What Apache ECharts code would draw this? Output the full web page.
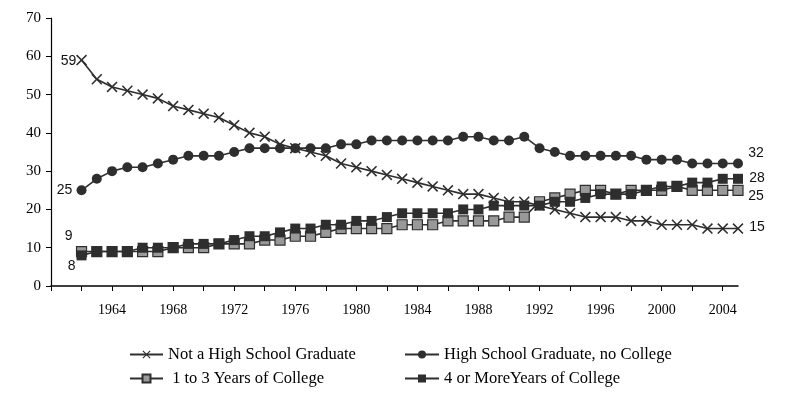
<!DOCTYPE html>
<html>
<head>
<meta charset="utf-8">
<script src="https://cdn.jsdelivr.net/npm/echarts@6/dist/echarts.min.js"></script>
<style>
  html, body { margin: 0; padding: 0; background: #fff; }
  #main { width: 786px; height: 399px; }
</style>
</head>
<body>
<div id="main"></div>
<script>
var years = [1962, 1963, 1964, 1965, 1966, 1967, 1968, 1969, 1970, 1971,
  1972, 1973, 1974, 1975, 1976, 1977, 1978, 1979, 1980, 1981,
  1982, 1983, 1984, 1985, 1986, 1987, 1988, 1989, 1990, 1991,
  1992, 1993, 1994, 1995, 1996, 1997, 1998, 1999, 2000, 2001,
  2002, 2003, 2004, 2005];

var notHighSchool = [59, 54, 52, 51, 50, 49, 47, 46, 45, 44,
  42, 40, 39, 37, 36, 35, 34, 32, 31, 30,
  29, 28, 27, 26, 25, 24, 24, 23, 22, 22,
  21, 20, 19, 18, 18, 18, 17, 17, 16, 16,
  16, 15, 15, 15];
var highSchool = [25, 28, 30, 31, 31, 32, 33, 34, 34, 34,
  35, 36, 36, 36, 36, 36, 36, 37, 37, 38,
  38, 38, 38, 38, 38, 39, 39, 38, 38, 39,
  36, 35, 34, 34, 34, 34, 34, 33, 33, 33,
  32, 32, 32, 32];
var someCollege = [9, 9, 9, 9, 9, 9, 10, 10, 10, 11,
  11, 11, 12, 12, 13, 13, 14, 15, 15, 15,
  15, 16, 16, 16, 17, 17, 17, 17, 18, 18,
  22, 23, 24, 25, 25, 24, 25, 25, 25, 26,
  25, 25, 25, 25];
var collegeGrad = [8, 9, 9, 9, 10, 10, 10, 11, 11, 11,
  12, 13, 13, 14, 15, 15, 16, 16, 17, 17,
  18, 19, 19, 19, 19, 20, 20, 21, 21, 21,
  21, 22, 22, 23, 24, 24, 24, 25, 26, 26,
  27, 27, 28, 28];

var names = ['Not a High School Graduate', 'High School Graduate, no College',
  ' 1 to 3 Years of College', '4 or MoreYears of College'];
var xTicks = [1960, 1962, 1964, 1966, 1968, 1970, 1972, 1974, 1976, 1978, 1980,
  1982, 1984, 1986, 1988, 1990, 1992, 1994, 1996, 1998, 2000, 2002, 2004];
var xLabels = [1964, 1968, 1972, 1976, 1980, 1984, 1988, 1992, 1996, 2000, 2004];

var ink = '#2e2e2e';
var crossPath = 'path://M0,1L1,0L5,4L9,0L10,1L6,5L10,9L9,10L5,6L1,10L0,9L4,5Z';

// first and last points carry the value labels
function build(vals, startOff, endOff) {
  return years.map(function (y, i) {
    var item = { value: [y, vals[i]] };
    if (i === 0) item.label = { show: true, offset: startOff };
    if (i === vals.length - 1) item.label = { show: true, offset: endOff };
    return item;
  });
}

function line(name, vals, symbol, size, fill, startOff, endOff) {
  return {
    name: name,
    type: 'line',
    data: build(vals, startOff, endOff),
    symbol: symbol,
    symbolSize: size,
    showAllSymbol: true,
    lineStyle: { color: ink, width: 1.6 },
    itemStyle: { color: fill, borderColor: ink, borderWidth: fill === ink ? 0 : 1.2 },
    label: {
      show: false,
      position: 'inside',
      formatter: function (p) { return p.value[1]; },
      fontFamily: 'Liberation Sans',
      fontSize: 14,
      color: '#111'
    }
  };
}

var myChart = echarts.init(document.getElementById('main'));

var legendText = { fontFamily: 'Liberation Serif', fontSize: 16.5, lineHeight: 17, color: '#000' };

var option = {
  animation: false,
  grid: { left: 51, right: 48, top: 18, bottom: 113 },
  legend: [
    {
      orient: 'vertical', left: 124, top: 341, itemGap: 7,
      itemWidth: 33, itemHeight: 10,
      data: [names[0], names[2]], textStyle: legendText
    },
    {
      orient: 'vertical', left: 399, top: 341, itemGap: 7,
      itemWidth: 34, itemHeight: 10,
      data: [names[1], names[3]], textStyle: legendText
    }
  ],
  xAxis: {
    type: 'value',
    min: 1960,
    max: 2005,
    interval: 2,
    splitLine: { show: false },
    axisLine: { lineStyle: { color: '#000', width: 1.5 } },
    axisTick: { show: true, length: 5, customValues: xTicks, lineStyle: { color: '#000' } },
    axisLabel: {
      customValues: xLabels,
      formatter: function (v) { return String(v); },
      margin: 17,
      fontFamily: 'Liberation Serif',
      fontSize: 14,
      color: '#000'
    }
  },
  yAxis: {
    type: 'value',
    min: 0,
    max: 70,
    interval: 10,
    splitLine: { show: false },
    axisLine: { show: true, lineStyle: { color: '#000', width: 1.2 } },
    axisTick: { show: true, length: 5, lineStyle: { color: '#000' } },
    axisLabel: {
      margin: 10,
      fontFamily: 'Liberation Serif',
      fontSize: 15,
      color: '#000'
    }
  },
  series: [
    line(names[0], notHighSchool, crossPath, 11, ink, [-13, 1], [19, -1]),
    line(names[1], highSchool, 'circle', 10, ink, [-17, 0], [18, -10]),
    line(names[2], someCollege, 'rect', 10, '#999', [-13, -15], [18, 6]),
    line(names[3], collegeGrad, 'rect', 10, ink, [-10, 11], [19, -1])
  ]
};
myChart.setOption(option);
</script>
</body>
</html>
